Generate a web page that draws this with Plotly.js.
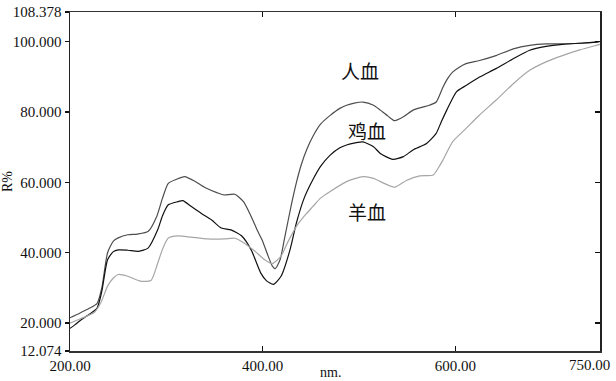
<!DOCTYPE html>
<html>
<head>
<meta charset="utf-8">
<script src="https://cdn.plot.ly/plotly-3.0.1.min.js"></script>
<style>html,body{margin:0;padding:0;background:#fff;}#chart{width:616px;height:381px;}</style>
</head>
<body>
<div id="chart"></div>
<script>
// Wavelength (nm) and reflectance R% for each sample
const humanNm = [200,210,220,228,233,239,245,250,260,270,281,290,296,302,310,319,330,340,353,360,371,380,388,395,400,405,410,413,418,423,430,435,440,446,452,460,470,480,487,495,504,515,522,530,537,546,556,565,573,580,587,592,597,604,611,625,642,660,677,694,711,729,746,750];
const humanR  = [21.5,22.8,24.2,25.5,30,40,43.3,44.2,45.1,45.3,46,50.3,55.5,59.7,60.8,61.6,60.2,58.5,57,56.4,56.6,54.5,50.3,46,43.2,39.5,36.2,35.5,38,44.6,54,60,65,69.5,73,76.5,79,81,81.9,82.5,82.8,81.9,80.5,78.8,77.5,78.6,80.5,81.3,81.9,82.8,87,89.5,91.3,92.7,93.7,94.6,96,97.9,98.9,99.3,99.3,99.5,99.8,100];

const chickenNm = [200,205,210,220,228,233,239,245,250,260,271,281,291,296,302,312,317,326,336,347,357,367,378,388,398,404,411,419,428,435,443,452,460,470,480,487,496,504,515,522,535,546,556,570,580,585,591,601,611,625,642,660,677,694,711,729,746,750];
const chickenR  = [18.5,19.5,20.6,22.5,24.2,29,38,40.3,40.8,40.7,40.4,41.3,46.5,50.5,53.6,54.5,54.8,53.1,51.2,49.3,47,46.5,44.8,40.8,34.2,32,31,33.3,40.5,48.5,55.5,60.7,64.5,67.7,69.8,70.6,71.2,71.5,70.1,68.2,66.5,67.3,69.2,71,73.9,77,80.5,85.7,87.5,89.9,92.3,95.1,97.5,98.6,99.2,99.5,99.8,100];

const sheepNm = [200,207,215,225,232,239,245,250,260,273,284,291,296,302,312,326,343,360,371,381,392,402,410,419,426,435,445,452,460,470,487,504,515,522,537,549,563,577,582,587,597,611,625,642,660,677,694,711,729,746,750];
const sheepR  = [20,20.8,21.7,23,25.8,30.5,32.8,33.8,33.3,31.9,32.1,37,41,44.2,44.8,44.4,43.9,43.9,44.1,42.7,40.4,38,36.9,39,43,47.5,51,53.1,55.5,57.4,60.2,61.6,61.1,60.2,58.6,60.5,61.8,62.1,64,66.3,71.5,75.3,79.1,83.3,88,91.8,94.2,96,97.6,98.9,99.2];

const seriesNames = ['人血','鸡血','羊血'];
const labelNm = [501, 508, 508];
const labelR  = [91.7, 74.6, 51.7];

const xTickVals = [200,400,600];
const xTickText = ['200.00','400.00','600.00'];
const xEndVal = 750, xEndText = '750.00';
const yMin = 12.074, yMax = 108.378;
const yTickVals = [12.074,20,40,60,80,100,108.378];
const yTickText = ['12.074','20.000','40.000','60.000','80.000','100.000','108.378'];
const yInnerTicks = [20,40,60,80,100];

const serif = '"Liberation Serif","Times New Roman",serif';

const traces = [
  {x: humanNm, y: humanR, name: seriesNames[0], mode:'lines', line:{color:'#4d4d4d', width:1.2, shape:'spline', smoothing:0.6}},
  {x: chickenNm, y: chickenR, name: seriesNames[1], mode:'lines', line:{color:'#111111', width:1.2, shape:'spline', smoothing:0.6}},
  {x: sheepNm, y: sheepR, name: seriesNames[2], mode:'lines', line:{color:'#a6a6a6', width:1.2, shape:'spline', smoothing:0.6}, yaxis:'y2'}
];

const annotations = seriesNames.map((t,i)=>({
  x: labelNm[i], y: labelR[i], xref:'x', yref:'y', text: t, showarrow:false,
  font:{family:'"Noto Sans CJK SC", sans-serif', size:19, color:'#111'}
}));
annotations.push({x: xEndVal, y: 0, xref:'x', yref:'paper', text: xEndText, showarrow:false,
  yanchor:'top', yshift:-4, xshift:-11, font:{family:serif, size:15, color:'#111'}});
annotations.push({x: 0.5, y: 0, xref:'paper', yref:'paper', text:'nm.', showarrow:false,
  yanchor:'top', yshift:-12, xshift:-5, font:{family:serif, size:14, color:'#111'}});

const layout = {
  width:616, height:381,
  margin:{l:70, r:16, t:12, b:30},
  paper_bgcolor:'#fff', plot_bgcolor:'#fff',
  showlegend:false,
  font:{family:serif, size:15, color:'#111'},
  xaxis:{range:[200,750], tickvals:xTickVals, ticktext:xTickText, ticks:'inside', ticklen:5,
    tickcolor:'#111', tickwidth:1.5, showline:true, linecolor:'#333', linewidth:1.5, mirror:'ticks',
    showgrid:false, zeroline:false, tickfont:{family:serif, size:15, color:'#111'}},
  yaxis:{range:[yMin,yMax], tickvals:yTickVals, ticktext:yTickText, ticks:'outside', ticklen:4,
    tickcolor:'#111', tickwidth:1.5, showline:true, linecolor:'#222', linewidth:1.5, mirror:true,
    showgrid:false, zeroline:false, tickfont:{family:serif, size:15, color:'#111'},
    title:{text:'R%', font:{family:serif, size:14, color:'#111'}, standoff:8}},
  yaxis2:{overlaying:'y', side:'right', range:[yMin,yMax], tickvals:yInnerTicks, ticks:'inside',
    ticklen:5, tickcolor:'#111', tickwidth:1.5, showticklabels:false, showline:false,
    showgrid:false, zeroline:false},
  annotations: annotations
};

Plotly.newPlot('chart', traces, layout, {staticPlot:true, displayModeBar:false});
</script>
</body>
</html>
